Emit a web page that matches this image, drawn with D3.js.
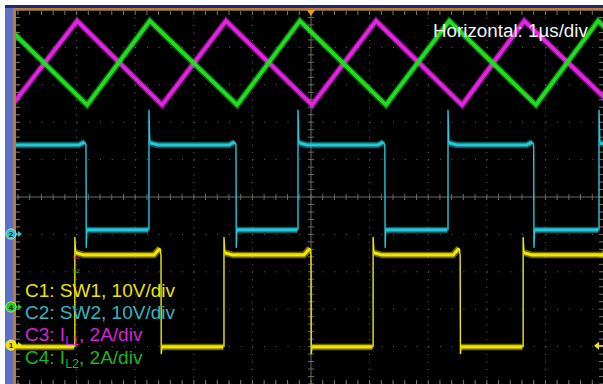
<!DOCTYPE html>
<html>
<head>
<meta charset="utf-8">
<script src="https://cdn.jsdelivr.net/npm/d3@7"></script>
<style>
html,body{margin:0;padding:0;background:#fff;}
svg{display:block;}
text{font-family:"Liberation Sans",Arial,sans-serif;}
</style>
</head>
<body>
<svg id="chart" width="603" height="384"></svg>
<script>
// ---- data (time in µs, amplitude in screen divisions) ----
const gridDivs = [-5, -4, -3, -2, -1, 0, 1, 2, 3, 4, 5];
const il1Times = [-5.10, -3.99, -2.54, -1.45, 0.02, 1.11, 2.58, 3.64, 5.14];
const il1Vals  = [2.46, 4.71, 2.46, 4.71, 2.46, 4.71, 2.46, 4.71, 2.46];
const il2Times = [-5.29, -3.82, -2.75, -1.26, -0.19, 1.28, 2.36, 3.84, 4.90, 6.37];
const il2Vals  = [4.71, 2.46, 4.71, 2.46, 4.71, 2.46, 4.71, 2.46, 4.71, 2.46];
const sw2Falls = [-3.84, -1.28, 1.26, 3.80];
const sw2Rises = [-2.765, -0.222, 2.338, 4.915];
const sw2Levels = {high: 1.39, low: -0.88, spike: 2.33, under: -1.36, bump: 0.08};
const sw1Rises = [-4.03, -1.485, 1.06, 3.62];
const sw1Falls = [-2.56, 0.0, 2.545, 5.10];
const sw1Levels = {high: -1.55, low: -4.01, spike: -1.07, under: -4.20, bump: 0.18};
const markers = [
  {label: "2", level: -0.99, color: "#29c6d6"},
  {label: "4", level: -2.94, color: "#22d022"},
  {label: "1", level: -3.96, color: "#f0e800"}
];
const triggerLevel = -3.98;
const legend = [
  {pre: "C1: SW1, 10V/div", sub: "", post: "", color: "#ece400"},
  {pre: "C2: SW2, 10V/div", sub: "", post: "", color: "#36b6c4"},
  {pre: "C3: I", sub: "L1", post: ", 2A/div", color: "#d624d6"},
  {pre: "C4: I", sub: "L2", post: ", 2A/div", color: "#22b322"}
];
const hLabel = "Horizontal: 1µs/div";

// ---- setup ----
const svg = d3.select("#chart");
const W = 603, H = 384;
const x = d3.scaleLinear().domain([-5, 5]).range([18, 604]);
const y = d3.scaleLinear().domain([-5, 5]).range([384, 10]);
const plotL = 16, plotT = 10;

// frame
svg.append("rect").attr("x", 0).attr("y", 0).attr("width", W).attr("height", H).attr("fill", "#fff");
svg.append("rect").attr("x", 5).attr("y", 5).attr("width", W - 5).attr("height", 4).attr("fill", "#1d2b7e");
svg.append("rect").attr("x", 5).attr("y", 8).attr("width", 9).attr("height", H - 8).attr("fill", "#5e70c0");
svg.append("rect").attr("x", 13).attr("y", 8).attr("width", W - 13).attr("height", 2.5).attr("fill", "#c07a2c");
svg.append("rect").attr("x", 13).attr("y", 8).attr("width", 3).attr("height", H - 8).attr("fill", "#c07a2c");
svg.append("rect").attr("x", plotL).attr("y", plotT + 0.5).attr("width", W - plotL).attr("height", H - plotT).attr("fill", "#000");

svg.append("defs").append("clipPath").attr("id", "clip")
  .append("rect").attr("x", plotL).attr("y", plotT + 0.5).attr("width", W - plotL).attr("height", H - plotT);
const g = svg.append("g").attr("clip-path", "url(#clip)");

// dotted grid
const dx = x(1) - x(0), dy = y(0) - y(1);
gridDivs.filter(d => d !== 0).forEach(d => {
  g.append("line").attr("x1", x(d)).attr("x2", x(d)).attr("y1", y(5)).attr("y2", y(-5))
    .attr("stroke", "#6a6a6a").attr("stroke-width", 1).attr("stroke-dasharray", `1 ${dy / 5 - 1}`);
  g.append("line").attr("y1", y(d)).attr("y2", y(d)).attr("x1", x(-5)).attr("x2", x(5))
    .attr("stroke", "#6a6a6a").attr("stroke-width", 1).attr("stroke-dasharray", `1 ${dx / 5 - 1}`);
});
// center cross with minor ticks
const axisCol = "#6e6a60";
g.append("line").attr("x1", x(0)).attr("x2", x(0)).attr("y1", y(5)).attr("y2", y(-5)).attr("stroke", axisCol).attr("stroke-width", 1);
g.append("line").attr("y1", y(0)).attr("y2", y(0)).attr("x1", x(-5)).attr("x2", x(5)).attr("stroke", axisCol).attr("stroke-width", 1);
const minorX = d3.range(-50, 51).map(v => v / 10).filter((v, i) => i % 2 === 0);
const minorY = minorX;
minorX.forEach(v => {
  g.append("line").attr("x1", x(v)).attr("x2", x(v)).attr("y1", y(0) - 3).attr("y2", y(0) + 3).attr("stroke", axisCol);
  g.append("line").attr("x1", x(v)).attr("x2", x(v)).attr("y1", plotT + 1).attr("y2", plotT + 5).attr("stroke", "#777");
  g.append("line").attr("x1", x(v)).attr("x2", x(v)).attr("y1", H).attr("y2", H - 4).attr("stroke", "#777");
});
minorY.forEach(v => {
  g.append("line").attr("y1", y(v)).attr("y2", y(v)).attr("x1", x(0) - 3).attr("x2", x(0) + 3).attr("stroke", axisCol);
  g.append("line").attr("y1", y(v)).attr("y2", y(v)).attr("x1", plotL).attr("x2", plotL + 4).attr("stroke", "#777");
  g.append("line").attr("y1", y(v)).attr("y2", y(v)).attr("x1", W).attr("x2", W - 4).attr("stroke", "#777");
});

// ---- helpers ----
function fuzzyPath(points, color, wOuter, wInner) {
  const line = d3.line().x(d => x(d[0])).y(d => y(d[1]));
  g.append("path").attr("d", line(points)).attr("fill", "none").attr("stroke", color)
    .attr("stroke-width", wOuter).attr("stroke-opacity", 0.45).attr("stroke-linejoin", "miter");
  g.append("path").attr("d", line(points)).attr("fill", "none").attr("stroke", color)
    .attr("stroke-width", wInner).attr("stroke-linejoin", "miter");
}
function squareWave(rises, falls, L, color, startHigh) {
  const edges = rises.map(t => ({t, up: true})).concat(falls.map(t => ({t, up: false})))
    .sort((a, b) => a.t - b.t);
  const line = d3.line().x(d => x(d[0])).y(d => y(d[1]));
  let t0 = -5.2, high = startHigh;
  const segs = [];
  edges.forEach(e => { segs.push({t0, t1: e.t, high, afterRise: t0 > -5.2 && high}); t0 = e.t; high = e.up; });
  segs.push({t0, t1: 5.3, high, afterRise: high});
  segs.forEach(s => {
    const lv = s.high ? L.high : L.low;
    const pts = [];
    if (s.high) {
      pts.push([s.t0 + 0.015, lv + (s.afterRise ? 0.06 : 0)], [s.t0 + 0.15, lv]);
      pts.push([s.t1 - 0.12, lv], [s.t1 - 0.02, lv + L.bump]);
    } else {
      pts.push([s.t0 + 0.015, lv], [s.t1 - 0.01, lv]);
    }
    fuzzyPath(pts, color, 6.5, 3.2);
  });
  edges.forEach(e => {
    const pts = e.up ? [[e.t, L.low], [e.t, L.spike], [e.t + 0.015, L.high + 0.06]]
                     : [[e.t - 0.02, L.high + L.bump], [e.t, L.high], [e.t + 0.005, L.under], [e.t + 0.015, L.low]];
    g.append("path").attr("d", line(pts)).attr("fill", "none").attr("stroke", color).attr("stroke-width", 1.4);
  });
}

// ---- traces ----
squareWave(sw2Rises, sw2Falls, sw2Levels, "#24c8d8", true);
squareWave(sw1Rises, sw1Falls, sw1Levels, "#f0e600", false);
fuzzyPath(il1Times.map((t, i) => [t, il1Vals[i]]), "#e024e0", 6.5, 3.8);
fuzzyPath(il2Times.map((t, i) => [t, il2Vals[i]]), "#22dc22", 6.5, 3.8);

// tiny reference labels
svg.append("text").attr("x", x(-4.06)).attr("y", 259).attr("font-size", 6).attr("fill", "#d020d0").text("L1");
svg.append("text").attr("x", x(-4.06)).attr("y", 273).attr("font-size", 6).attr("fill", "#20c020").text("L2");

// trigger position marker
svg.append("path").attr("d", `M${x(0) - 4},${plotT} L${x(0) + 4},${plotT} L${x(0)},${plotT + 6} Z`).attr("fill", "#f29a1e");

// trigger level marker (right)
const ty = y(triggerLevel);
svg.append("path").attr("d", `M${W - 9},${ty} L${W - 4},${ty - 4} L${W - 4},${ty + 4} Z`).attr("fill", "#f0e600");
svg.append("line").attr("x1", W - 5).attr("x2", W).attr("y1", ty).attr("y2", ty).attr("stroke", "#f0e600").attr("stroke-width", 1.5);

// channel markers (left)
markers.forEach(m => {
  const my = y(m.level);
  svg.append("path").attr("d", `M18,${my - 3} L22,${my} L18,${my + 3} Z`).attr("fill", m.color);
  svg.append("line").attr("x1", 14).attr("x2", 19).attr("y1", my).attr("y2", my).attr("stroke", m.color).attr("stroke-width", 1.2);
  svg.append("circle").attr("cx", 11).attr("cy", my).attr("r", 5.2).attr("fill", m.color).attr("stroke", "#f8f8c0").attr("stroke-width", 0.6);
  svg.append("text").attr("x", 11).attr("y", my + 3).attr("text-anchor", "middle")
    .attr("font-size", 8).attr("font-weight", "bold").attr("fill", "#222").text(m.label);
});

// horizontal label
svg.append("text").attr("x", 433).attr("y", 37).attr("font-size", 18.8).attr("fill", "#f4f4f4").text(hLabel);

// legend
legend.forEach((d, i) => {
  const t = svg.append("text").attr("x", 25).attr("y", 297 + i * 22.2).attr("font-size", 19).attr("fill", d.color);
  t.append("tspan").text(d.pre);
  if (d.sub) {
    t.append("tspan").attr("font-size", 12.5).attr("dy", 4).text(d.sub);
    t.append("tspan").attr("dy", -4).text(d.post);
  }
});
</script>
</body>
</html>
